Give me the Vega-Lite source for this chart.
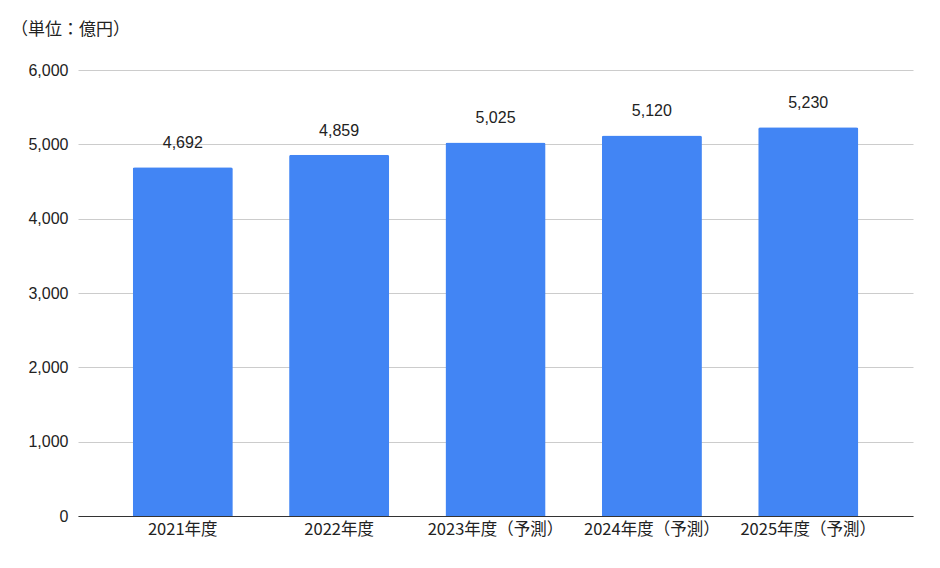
{
  "$schema": "https://vega.github.io/schema/vega-lite/v6.json",
  "width": 940,
  "height": 568,
  "autosize": {"type": "fit", "contains": "padding"},
  "padding": {"left": 10, "top": 21, "right": 27, "bottom": 30},
  "background": "white",
  "title": {
    "text": "（単位：億円）",
    "anchor": "start",
    "frame": "bounds",
    "offset": 23,
    "dx": -17,
    "fontSize": 17,
    "fontWeight": "normal",
    "font": "Noto Sans CJK JP",
    "color": "#222222"
  },
  "data": {
    "values": [
      {"year": "2021年度", "value": 4692},
      {"year": "2022年度", "value": 4859},
      {"year": "2023年度（予測）", "value": 5025},
      {"year": "2024年度（予測）", "value": 5120},
      {"year": "2025年度（予測）", "value": 5230}
    ]
  },
  "encoding": {
    "x": {
      "field": "year",
      "type": "nominal",
      "sort": null,
      "title": null,
      "scale": {"paddingInner": 0.36, "paddingOuter": 0.35},
      "axis": {
        "labelAngle": 0,
        "labelFontSize": 16.5,
        "labelFont": "Noto Sans CJK JP",
        "labelColor": "#222222",
        "labelPadding": 5,
        "ticks": false,
        "domainColor": "#333333",
        "domainWidth": 1
      }
    },
    "y": {
      "field": "value",
      "type": "quantitative",
      "title": null,
      "scale": {"domain": [0, 6000]},
      "axis": {
        "values": [0, 1000, 2000, 3000, 4000, 5000, 6000],
        "format": ",d",
        "labelFontSize": 16,
        "labelFont": "Liberation Sans",
        "labelColor": "#222222",
        "labelPadding": 10,
        "ticks": false,
        "domain": false,
        "gridColor": "#cccccc"
      }
    }
  },
  "layer": [
    {
      "mark": {
        "type": "bar",
        "color": "#4285F4",
        "cornerRadiusTopLeft": 2,
        "cornerRadiusTopRight": 2
      }
    },
    {
      "mark": {
        "type": "text",
        "baseline": "bottom",
        "dy": -16,
        "fontSize": 16,
        "font": "Liberation Sans",
        "color": "#222222"
      },
      "encoding": {
        "text": {"field": "value", "type": "quantitative", "format": ",d"}
      }
    }
  ],
  "config": {"view": {"stroke": null}}
}
